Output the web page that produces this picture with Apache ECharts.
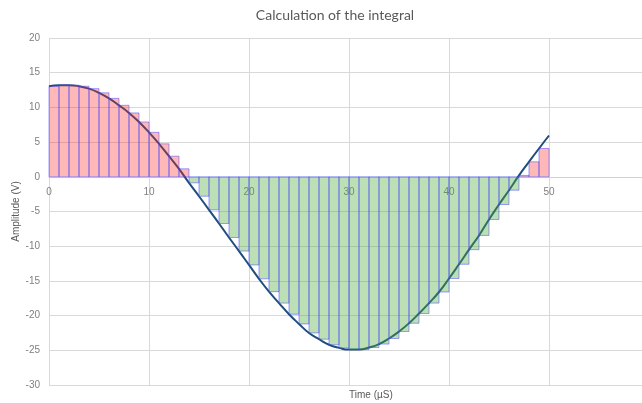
<!DOCTYPE html>
<html>
<head>
<meta charset="utf-8">
<script src="https://cdn.jsdelivr.net/npm/echarts@6/dist/echarts.min.js"></script>
<style>html,body{margin:0;padding:0;background:#fff;}#c{width:642px;height:403px;}</style>
</head>
<body>
<div id="c"></div>
<script>
const titleText = 'Calculation of the integral';
const xName = 'Time (µS)';
const yName = 'Amplitude (V)';
const times = [0,1,2,3,4,5,6,7,8,9,10,11,12,13,14,15,16,17,18,19,20,21,22,23,24,25,26,27,28,29,30,31,32,33,34,35,36,37,38,39,40,41,42,43,44,45,46,47,48,49,50];
const amplitude = [13.05,13.2,13.2,13.05,12.7,12.1,11.3,10.3,9.2,7.9,6.4,4.75,2.97,1.15,-0.87,-2.8,-4.76,-6.73,-8.75,-10.7,-12.7,-14.7,-16.55,-18.2,-19.8,-21.2,-22.5,-23.4,-24.2,-24.65,-24.9,-24.9,-24.6,-24.1,-23.3,-22.3,-21.1,-19.7,-18.2,-16.6,-14.65,-12.6,-10.5,-8.45,-6.15,-4.0,-1.93,0.2,2.16,4.08,5.95];
const xMin = 0, xMax = 60, xStep = 10;
const yMin = -30, yMax = 20, yStep = 5;

const curve = times.map((t, i) => [t, amplitude[i]]);
const steps = [];
for (let i = 0; i < times.length - 1; i++) steps.push([times[i], times[i + 1], amplitude[i]]);

const gridTop = 38, gridBottom = 18, chartH = 403;
const plotH = chartH - gridTop - gridBottom;
const zeroOffset = plotH * (0 - yMin) / (yMax - yMin);

const font = "'Liberation Sans Narrow', 'Liberation Sans', Arial, sans-serif";
const chart = echarts.init(document.getElementById('c'), null, {renderer: 'canvas'});
chart.setOption({
  animation: false,
  backgroundColor: '#ffffff',
  title: {
    text: titleText, left: 330, top: 3, textAlign: 'center',
    textStyle: {fontFamily: "Lato, 'Open Sans', sans-serif", fontSize: 14, fontWeight: 'normal', color: '#595959'}
  },
  graphic: [{
    type: 'text', left: 349, top: 390,
    style: {text: xName, fill: '#595959', font: '10px ' + font, textAlign: 'center'}
  }],
  grid: {left: 49, right: -7, top: gridTop, bottom: gridBottom, containLabel: false, outerBoundsMode: 'none'},
  xAxis: {
    type: 'value', min: xMin, max: xMax, interval: xStep, position: 'bottom', offset: -zeroOffset,
    axisLine: {show: true, onZero: false, lineStyle: {color: '#d0d0d0', width: 1}},
    axisTick: {show: false},
    axisLabel: {color: '#7f7f7f', fontSize: 10, fontFamily: font, margin: 10, showMaxLabel: true, hideOverlap: false},
    splitLine: {show: true, lineStyle: {color: '#d9d9d9', width: 1}}
  },
  yAxis: {
    type: 'value', min: yMin, max: yMax, interval: yStep,
    axisLine: {show: false}, axisTick: {show: false},
    axisLabel: {color: '#7f7f7f', fontSize: 10, fontFamily: font, margin: 9},
    splitLine: {show: true, lineStyle: {color: '#d9d9d9', width: 1}},
    name: yName, nameLocation: 'middle', nameGap: 28, nameMoveOverlap: false,
    nameTextStyle: {color: '#595959', fontSize: 10, fontFamily: font}
  },
  series: [{
    type: 'line', data: curve, smooth: true, showSymbol: false, z: 2,
    lineStyle: {color: '#1f4e79', width: 2}
  }, {
    type: 'custom', z: 3, data: steps,
    renderItem: function (params, api) {
      const t0 = api.value(0), t1 = api.value(1), v = api.value(2);
      const a = api.coord([t0, 0]);
      const b = api.coord([t1, v]);
      return {
        type: 'rect',
        shape: {x: a[0], y: Math.min(a[1], b[1]), width: b[0] - a[0], height: Math.abs(b[1] - a[1])},
        style: {
          fill: v >= 0 ? 'rgba(255,40,40,0.33)' : 'rgba(80,170,60,0.38)',
          stroke: 'rgba(70,70,255,0.5)', lineWidth: 1
        }
      };
    }
  }]
});
</script>
</body>
</html>
